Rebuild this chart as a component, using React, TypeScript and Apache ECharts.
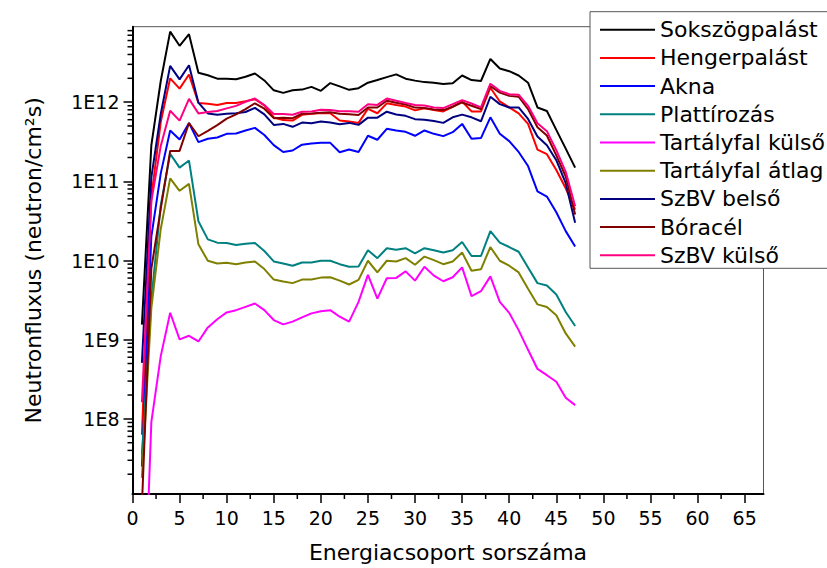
import React, { useEffect, useRef } from 'react';
import * as echarts from 'echarts';

const groups = [1,2,3,4,5,6,7,8,9,10,11,12,13,14,15,16,17,18,19,20,21,22,23,24,25,26,27,28,29,30,31,32,33,34,35,36,37,38,39,40,41,42,43,44,45,46,47];

const seriesNames = ['Sokszögpalást','Hengerpalást','Akna','Plattírozás','Tartályfal külső','Tartályfal átlag','SzBV belső','Bóracél','SzBV külső'];
const seriesColors = ['#000000','#FF0000','#0000FF','#008080','#FF00FF','#808000','#000080','#800000','#FF0080'];

const sokszogpalast = [1.55e9,2.85e11,1.85e12,7.78e12,5.15e12,7.21e12,2.35e12,2.19e12,1.98e12,1.98e12,1.95e12,2.09e12,2.30e12,1.88e12,1.41e12,1.31e12,1.41e12,1.44e12,1.56e12,1.39e12,1.74e12,1.58e12,1.43e12,1.50e12,1.76e12,1.90e12,2.07e12,2.24e12,1.98e12,1.87e12,1.79e12,1.76e12,1.69e12,1.73e12,2.17e12,1.90e12,1.85e12,3.51e12,2.66e12,2.46e12,2.17e12,1.76e12,8.57e11,7.73e11,4.47e11,2.59e11,1.49e11];
const hengerpalast = [6.3e7,6.3e10,5.6e11,2.0e12,1.48e12,2.23e12,9.75e11,9.53e11,9.23e11,9.73e11,9.75e11,1.03e12,1.09e12,9.08e11,6.40e11,5.93e11,5.85e11,6.92e11,7.11e11,7.28e11,7.24e11,5.85e11,5.68e11,5.47e11,8.24e11,7.24e11,9.66e11,9.18e11,8.79e11,7.87e11,8.34e11,7.94e11,7.64e11,8.75e11,1.02e12,7.64e11,7.64e11,1.52e12,1.02e12,8.57e11,7.21e11,5.31e11,2.51e11,2.20e11,1.39e11,8.18e10,4.40e10];
const akna = [2.5e7,2.0e10,1.26e11,4.39e11,3.37e11,5.45e11,3.13e11,3.45e11,3.58e11,3.98e11,4.02e11,4.39e11,4.73e11,3.84e11,2.87e11,2.35e11,2.45e11,2.90e11,3.01e11,3.06e11,3.06e11,2.33e11,2.52e11,2.34e11,3.76e11,3.35e11,4.60e11,4.39e11,4.22e11,3.76e11,4.39e11,3.98e11,3.72e11,4.18e11,5.31e11,3.45e11,3.52e11,6.43e11,3.98e11,3.22e11,2.35e11,1.56e11,7.45e10,6.43e10,4.06e10,2.35e10,1.50e10];
const plattirozas = [3.5e7,3.2e9,5.0e10,2.22e11,1.49e11,1.83e11,3.13e10,1.85e10,1.68e10,1.66e10,1.57e10,1.63e10,1.66e10,1.32e10,9.73e9,9.18e9,8.57e9,9.44e9,9.44e9,9.91e9,9.91e9,8.99e9,8.34e9,8.38e9,1.35e10,1.07e10,1.43e10,1.37e10,1.43e10,1.23e10,1.43e10,1.35e10,1.26e10,1.35e10,1.71e10,1.14e10,1.14e10,2.35e10,1.68e10,1.48e10,1.29e10,8.18e9,5.18e9,4.84e9,3.72e9,2.24e9,1.49e9];
const tartalyfalKulso = [5e4,9.1e7,6.2e8,2.19e9,1.01e9,1.12e9,9.5e8,1.43e9,1.81e9,2.21e9,2.36e9,2.60e9,2.86e9,2.36e9,1.77e9,1.56e9,1.69e9,1.91e9,2.15e9,2.29e9,2.36e9,1.95e9,1.69e9,3.0e9,6.58e9,3.30e9,5.97e9,6.03e9,7.29e9,5.57e9,8.34e9,6.44e9,5.47e9,6.14e9,8.18e9,3.55e9,4.10e9,6.31e9,3.0e9,2.18e9,1.32e9,7.45e8,4.27e8,3.56e8,2.94e8,1.85e8,1.49e8];
const tartalyfalAtlag = [1.8e7,2.5e9,2.5e10,1.09e11,7.59e10,9.27e10,1.60e10,9.91e9,9.18e9,9.35e9,8.99e9,9.44e9,9.73e9,7.80e9,5.74e9,5.42e9,5.18e9,5.74e9,5.74e9,6.08e9,6.14e9,5.57e9,4.98e9,5.70e9,9.93e9,7.08e9,9.93e9,9.73e9,1.07e10,8.83e9,1.12e10,1.01e10,8.99e9,9.73e9,1.26e10,7.43e9,7.74e9,1.48e10,9.93e9,8.59e9,7.08e9,4.39e9,2.79e9,2.59e9,2.04e9,1.20e9,8.18e8];
const szbvBelso = [5.1e8,1.12e11,7.08e11,2.87e12,1.94e12,2.92e12,9.84e11,7.21e11,6.92e11,7.14e11,7.24e11,7.50e11,8.45e11,7.01e11,5.16e11,5.31e11,4.88e11,5.52e11,5.43e11,5.68e11,5.52e11,5.26e11,5.47e11,5.16e11,6.37e11,6.37e11,7.57e11,6.98e11,6.71e11,6.10e11,6.01e11,5.78e11,5.47e11,6.43e11,6.95e11,6.43e11,5.73e11,1.17e12,9.44e11,8.57e11,8.57e11,6.14e11,3.69e11,2.85e11,1.85e11,9.46e10,2.99e10];
const boracel = [8e6,7.9e9,4.5e10,2.42e11,2.42e11,5.45e11,3.71e11,4.35e11,5.12e11,6.19e11,7.01e11,8.18e11,9.68e11,8.26e11,6.28e11,6.37e11,6.28e11,7.14e11,7.18e11,7.36e11,7.43e11,7.14e11,7.05e11,6.89e11,8.57e11,8.57e11,1.04e12,9.82e11,9.35e11,8.53e11,8.41e11,8.09e11,7.94e11,8.75e11,9.91e11,8.99e11,8.18e11,1.60e12,1.32e12,1.20e12,1.17e12,8.18e11,4.82e11,3.79e11,2.13e11,1.15e11,3.80e10];
const szbvKulso = [1.62e8,5.6e10,2.8e11,7.80e11,5.85e11,1.10e12,7.21e11,7.50e11,7.73e11,8.34e11,8.97e11,1.01e12,1.11e12,9.18e11,7.08e11,7.08e11,6.92e11,7.57e11,7.60e11,8.02e11,7.94e11,7.67e11,7.67e11,7.57e11,9.40e11,9.23e11,1.11e12,1.04e12,9.73e11,9.23e11,9.08e11,8.57e11,8.41e11,9.44e11,1.06e12,9.62e11,8.57e11,1.71e12,1.39e12,1.26e12,1.24e12,8.99e11,5.41e11,4.30e11,2.47e11,1.32e11,4.83e10];

const seriesValues = [sokszogpalast, hengerpalast, akna, plattirozas, tartalyfalKulso, tartalyfalAtlag, szbvBelso, boracel, szbvKulso];

const xMajorTicks = [0,5,10,15,20,25,30,35,40,45,50,55,60,65];
const xMinorTicks = [2.5,7.5,12.5,17.5,22.5,27.5,32.5,37.5,42.5,47.5,52.5,57.5,62.5];
const yMajorTicks = [1e8,1e9,1e10,1e11,1e12];
const yMin = 1.125e7;
const yMax = 8.97e12;
const xMin = 0;
const xMax = 67;

const FONT = 'DejaVu Sans';

export default function App() {
  const ref = useRef<HTMLDivElement>(null);
  useEffect(() => {
    if (!ref.current) return;
    const chart = echarts.init(ref.current, undefined, { renderer: 'svg' });

    const yMinor: number[][] = [];
    for (let n = 7; n <= 12; n++) {
      for (let k = 2; k <= 9; k++) {
        const v = k * Math.pow(10, n);
        if (v > yMin && v < yMax) yMinor.push([xMin, v]);
      }
    }
    const xMinor = xMinorTicks.map((v) => [v, yMin]);

    const lineSeries = seriesNames.map((name, si) => ({
      name,
      type: 'line',
      showSymbol: false,
      symbol: 'none',
      clip: true,
      data: groups.map((g, i) => [g, seriesValues[si][i]]),
      lineStyle: { color: seriesColors[si], width: 2 },
      itemStyle: { color: seriesColors[si] },
      z: 2 + si * 0.01,
    }));

    chart.setOption({
      animation: false,
      backgroundColor: '#ffffff',
      textStyle: { fontFamily: FONT, color: '#000' },
      grid: {
        left: 132.5,
        right: 63.5,
        top: 26.7,
        bottom: 68.7,
        show: true,
        borderColor: '#555555',
        borderWidth: 1,
        backgroundColor: 'transparent',
      },
      legend: {
        data: seriesNames,
        orient: 'vertical',
        left: 590,
        top: 11.7,
        align: 'left',
        icon: 'rect',
        itemWidth: 55,
        itemHeight: 2,
        itemGap: 6.2,
        padding: [7, 20, 2, 10],
        backgroundColor: '#ffffff',
        borderColor: '#555555',
        borderWidth: 1,
        selectedMode: false,
        textStyle: { fontFamily: FONT, fontSize: 22, lineHeight: 22, color: '#000' },
        z: 10,
      },
      xAxis: {
        type: 'value',
        min: xMin,
        max: xMax,
        interval: 5,
        name: 'Energiacsoport sorszáma',
        nameLocation: 'middle',
        nameGap: 47,
        nameTextStyle: { fontFamily: FONT, fontSize: 22, color: '#000' },
        axisLine: { show: true, onZero: false, lineStyle: { color: '#000', width: 2 } },
        axisTick: { show: true, inside: false, length: 9, customValues: xMajorTicks, lineStyle: { color: '#000', width: 1.5 } },
        axisLabel: { customValues: xMajorTicks, fontFamily: FONT, fontSize: 19, color: '#000', margin: 14 },
        splitLine: { show: false },
      },
      yAxis: {
        type: 'log',
        logBase: 10,
        min: yMin,
        max: yMax,
        name: 'Neutronfluxus (neutron/cm²s)',
        nameLocation: 'middle',
        nameGap: 88,
        nameTextStyle: { fontFamily: FONT, fontSize: 22, color: '#000' },
        axisLine: { show: true, onZero: false, lineStyle: { color: '#000', width: 2 } },
        axisTick: { show: true, inside: false, length: 9, customValues: yMajorTicks, lineStyle: { color: '#000', width: 1.5 } },
        axisLabel: {
          customValues: yMajorTicks,
          fontFamily: FONT,
          fontSize: 19,
          color: '#000',
          margin: 13,
          formatter: (v: number) => '1E' + Math.round(Math.log10(v)),
        },
        splitLine: { show: false },
      },
      series: [
        ...lineSeries,
        {
          name: 'yMinorTicks',
          type: 'custom',
          clip: false,
          silent: true,
          data: yMinor,
          renderItem: (params: any, api: any) => {
            const p = api.coord([api.value(0), api.value(1)]);
            return {
              type: 'line',
              shape: { x1: p[0] - 5, y1: p[1], x2: p[0], y2: p[1] },
              style: { stroke: '#000', lineWidth: 1.5 },
            };
          },
          z: 5,
        },
        {
          name: 'xMinorTicks',
          type: 'custom',
          clip: false,
          silent: true,
          data: xMinor,
          renderItem: (params: any, api: any) => {
            const p = api.coord([api.value(0), api.value(1)]);
            return {
              type: 'line',
              shape: { x1: p[0], y1: p[1], x2: p[0], y2: p[1] + 5 },
              style: { stroke: '#000', lineWidth: 1.5 },
            };
          },
          z: 5,
        },
      ],
    });
    return () => chart.dispose();
  }, []);

  return (
    <div
      ref={ref}
      style={{ position: 'fixed', left: 0, top: 0, width: 827, height: 568, background: '#fff' }}
    />
  );
}
